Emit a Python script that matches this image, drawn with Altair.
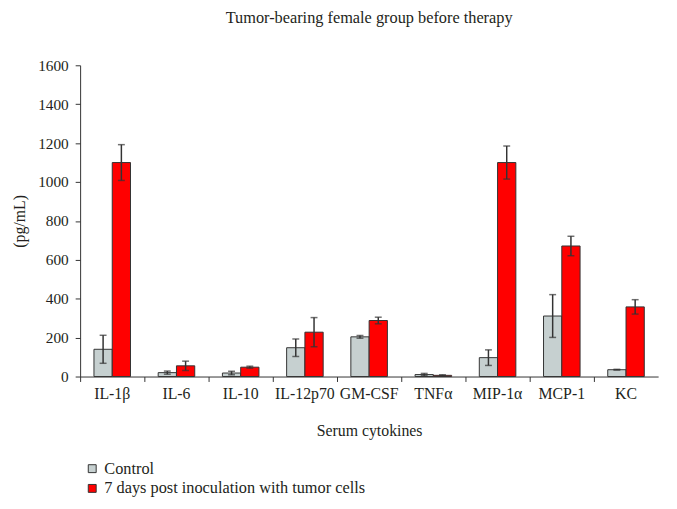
import altair as alt
import pandas as pd

categories = ["IL-1β", "IL-6", "IL-10", "IL-12p70", "GM-CSF", "TNFα", "MIP-1α", "MCP-1", "KC"]
series = ["Control", "7 days post inoculation with tumor cells"]
control_vals = [140, 20, 18, 148, 204, 10, 97, 311, 35]
control_err = [72, 8, 9, 45, 7, 6, 40, 110, 2]
tumor_vals = [1100, 55, 48, 228, 288, 6, 1100, 671, 358]
tumor_err = [92, 24, 5, 75, 17, 3, 85, 50, 37]
y_ticks = [0, 200, 400, 600, 800, 1000, 1200, 1400, 1600]
colors = ["#C6D0D0", "#FF0000"]

rows = []
for i, c in enumerate(categories):
    for s, v, e in ((series[0], control_vals[i], control_err[i]), (series[1], tumor_vals[i], tumor_err[i])):
        rows.append({"cat": c, "series": s, "value": v, "lo": v - e, "hi": v + e})
df = pd.DataFrame(rows)

FONT = "Liberation Serif"
x = alt.X("cat:N", sort=categories, title="Serum cytokines",
          scale=alt.Scale(paddingInner=0, paddingOuter=0),
          axis=alt.Axis(bandPosition=0, labelAngle=0, labelFontSize=16, labelFont=FONT,
                        labelColor="#231f20", titleFont=FONT, titleFontSize=16,
                        titleFontWeight="normal", titleColor="#231f20", titlePadding=22,
                        tickSize=5, labelPadding=4, domainColor="#333", tickColor="#333",
                        labelOverlap=False))
xo = alt.XOffset("series:N", sort=series, scale=alt.Scale(paddingOuter=0.757, paddingInner=0))

yscale = alt.Scale(domain=[0, 1600], nice=False)
yaxis = alt.Axis(values=y_ticks, format="d", labelOverlap=False, grid=False,
                 labelFontSize=15.5, labelFont=FONT, labelColor="#231f20",
                 titleFont=FONT, titleFontSize=16, titleFontWeight="normal",
                 titleColor="#231f20", titlePadding=10, tickSize=5, labelPadding=7,
                 domainColor="#333", tickColor="#333")


def Y(field):
    return alt.Y(field, title="(pg/mL)", scale=yscale, axis=yaxis)


base = alt.Chart(df)
bars = base.mark_bar(stroke="#333333", strokeWidth=1).encode(
    x=x, xOffset=xo,
    y=Y("value:Q"),
    color=alt.Color("series:N", sort=series,
                    scale=alt.Scale(domain=series, range=colors),
                    legend=alt.Legend(title=None, orient="none", legendX=4, legendY=400,
                                      symbolType="square", symbolSize=64,
                                      symbolStrokeColor="#333", symbolStrokeWidth=1,
                                      labelFont=FONT, labelFontSize=16.5, labelColor="#231f20",
                                      labelOffset=4, rowPadding=3, padding=0, labelLimit=0)),
)
rule = base.mark_rule(color="#333333", strokeWidth=1.5).encode(
    x=x, xOffset=xo, y=Y("lo:Q"), y2="hi:Q")
caps_hi = base.mark_tick(color="#333333", thickness=1.5, size=7).encode(
    x=x, xOffset=xo, y=Y("hi:Q"))
caps_lo = base.mark_tick(color="#333333", thickness=1.5, size=7).encode(
    x=x, xOffset=xo, y=Y("lo:Q"))

chart = alt.layer(bars, rule, caps_hi, caps_lo).properties(
    width=585, height=315,
    autosize=alt.AutoSizeParams(type="none"),
    padding={"left": 73, "top": 55, "right": 11, "bottom": 123},
    title=alt.TitleParams("Tumor-bearing female group before therapy", font=FONT,
                          fontSize=16.5, fontWeight="normal", color="#231f20",
                          anchor="middle", frame="group", offset=32),
).configure(background="white", font=FONT).configure_view(strokeWidth=0, stroke=None
).configure_legend(labelFont=FONT).configure_axis(labelFont=FONT, titleFont=FONT)

chart.save("out.html", embed_options={"renderer": "svg", "actions": False})
